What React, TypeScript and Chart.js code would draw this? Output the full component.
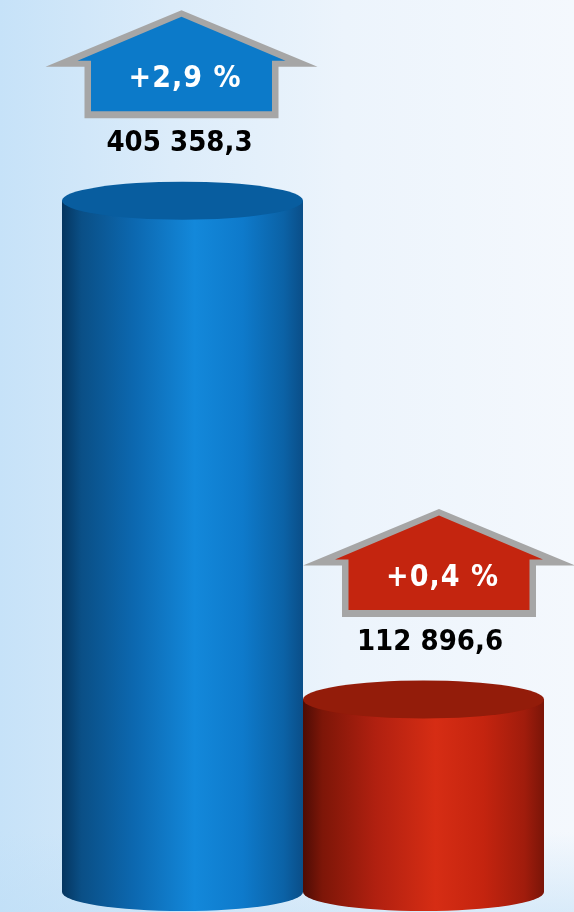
import React, { useEffect, useRef } from "react";
import { Chart, registerables } from "chart.js";

Chart.register(...registerables);

const CATEGORIES = ["Показатель 1", "Показатель 2"];
const VALUES = [405358.3, 112896.6];
const VALUE_LABELS = ["405 358,3", "112 896,6"];
const CHANGE_LABELS = ["+2,9 %", "+0,4 %"];

const BODY_STOPS = [
  [
    [0, "#05355f"],
    [0.08, "#0a4f86"],
    [0.3, "#0c68b0"],
    [0.55, "#1388da"],
    [0.75, "#0e7acb"],
    [0.92, "#0b62a6"],
    [1, "#0a4e88"],
  ],
  [
    [0, "#4d0c05"],
    [0.08, "#7d1608"],
    [0.3, "#b02010"],
    [0.55, "#d62d14"],
    [0.75, "#c4240f"],
    [0.92, "#a01c0c"],
    [1, "#7a1508"],
  ],
];
const TOP_COLORS = ["#085d9f", "#931c0a"];
const ARROW_COLORS = ["#0c7ac9", "#c4250f"];
const ARROW_DX = [-1, 15.5];
const VALUE_DX = [-3, 6.5];
const FONT = '"DejaVu Sans Condensed", "DejaVu Sans", sans-serif';

const cylinderPlugin = {
  id: "cylinders",
  beforeDraw(chart: any) {
    const { ctx, width, height } = chart;
    ctx.save();
    const g = ctx.createLinearGradient(0, 0, width, 0);
    g.addColorStop(0, "#c6e2f8");
    g.addColorStop(0.3, "#dcecfa");
    g.addColorStop(0.6, "#ecf4fc");
    g.addColorStop(1, "#f4f8fd");
    ctx.fillStyle = g;
    ctx.fillRect(0, 0, width, height);
    const v = ctx.createLinearGradient(0, height - 80, 0, height);
    v.addColorStop(0, "rgba(190,222,246,0)");
    v.addColorStop(1, "rgba(190,222,246,0.5)");
    ctx.fillStyle = v;
    ctx.fillRect(0, height - 80, width, 80);
    ctx.restore();
  },
  afterDatasetsDraw(chart: any) {
    const { ctx } = chart;
    const meta = chart.getDatasetMeta(0);
    const ry = 19;
    meta.data.forEach((bar: any, i: number) => {
      const { x, y, base, width } = bar.getProps(["x", "y", "base", "width"], true);
      const left = x - width / 2;
      const right = x + width / 2;
      const rx = width / 2;
      ctx.save();
      const g = ctx.createLinearGradient(left, 0, right, 0);
      BODY_STOPS[i].forEach(([o, c]: any) => g.addColorStop(o, c));
      ctx.fillStyle = g;
      ctx.beginPath();
      ctx.moveTo(left, y);
      ctx.lineTo(left, base);
      ctx.ellipse(x, base, rx, ry, 0, Math.PI, 0, true);
      ctx.lineTo(right, y);
      ctx.closePath();
      ctx.fill();
      ctx.fillStyle = TOP_COLORS[i];
      ctx.beginPath();
      ctx.ellipse(x, y, rx, ry, 0, 0, Math.PI * 2);
      ctx.fill();

      // arrow
      const cx = x + ARROW_DX[i];
      const ty = y;
      ctx.fillStyle = "#a6a6a6";
      ctx.beginPath();
      ctx.moveTo(cx, ty - 190.5);
      ctx.lineTo(cx + 136, ty - 134);
      ctx.lineTo(cx + 97, ty - 134);
      ctx.lineTo(cx + 97, ty - 82.5);
      ctx.lineTo(cx - 97, ty - 82.5);
      ctx.lineTo(cx - 97, ty - 134);
      ctx.lineTo(cx - 136, ty - 134);
      ctx.closePath();
      ctx.fill();
      ctx.fillStyle = ARROW_COLORS[i];
      ctx.beginPath();
      ctx.moveTo(cx, ty - 184);
      ctx.lineTo(cx + 104, ty - 140);
      ctx.lineTo(cx + 90.5, ty - 140);
      ctx.lineTo(cx + 90.5, ty - 89.5);
      ctx.lineTo(cx - 90.5, ty - 89.5);
      ctx.lineTo(cx - 90.5, ty - 140);
      ctx.lineTo(cx - 104, ty - 140);
      ctx.closePath();
      ctx.fill();

      ctx.textAlign = "center";
      ctx.textBaseline = "middle";
      ctx.font = `bold 30px ${FONT}`;
      (ctx as any).letterSpacing = "1px";
      ctx.fillStyle = "#ffffff";
      ctx.fillText(CHANGE_LABELS[i], cx + 3.5, ty - 121);
      (ctx as any).letterSpacing = "0px";
      ctx.font = `bold 29px ${FONT}`;
      ctx.fillStyle = "#000000";
      ctx.fillText(VALUE_LABELS[i], x + VALUE_DX[i], ty - 57);
      ctx.restore();
    });
  },
};

export default function App() {
  const ref = useRef<HTMLCanvasElement>(null);
  useEffect(() => {
    if (!ref.current) return;
    const chart = new Chart(ref.current, {
      type: "bar",
      data: {
        labels: CATEGORIES,
        datasets: [
          {
            data: VALUES,
            backgroundColor: "rgba(0,0,0,0)",
            borderWidth: 0,
            barPercentage: 1,
            categoryPercentage: 1,
          },
        ],
      },
      options: {
        responsive: false,
        animation: false,
        layout: { padding: { left: 62, right: 30, top: 0, bottom: 20 } },
        plugins: { legend: { display: false }, tooltip: { enabled: false } },
        scales: {
          x: { display: false },
          y: { display: false, min: 0, max: 523000 },
        },
      },
      plugins: [cylinderPlugin],
    });
    return () => chart.destroy();
  }, []);
  return (
    <div style={{ position: "fixed", left: 0, top: 0, width: 574, height: 912 }}>
      <canvas ref={ref} width={574} height={912} style={{ display: "block" }} />
    </div>
  );
}
